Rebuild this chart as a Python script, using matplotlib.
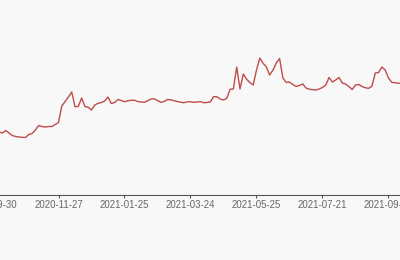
#!/usr/bin/env python3

import sys
from typing import List

import matplotlib

matplotlib.use("Agg")
from matplotlib import pyplot as plt

# one value per category, the axis shows a label every 20 categories
values = [
    68, 67, 68, 67, 69.5, 67, 64.5, 63.5, 63, 62.7,
    62.5, 65.5, 66.5, 70, 74.5, 73.5, 73, 73.5, 73.5, 75.5,
    77.5, 94, 98.5, 103, 108, 93.3, 93.5, 102, 93.5, 92.7,
    90, 95, 96.7, 97.5, 99, 103, 96.5, 97.5, 100.5, 99.5,
    98.3, 99.2, 99.7, 99.8, 98.5, 98, 97.7, 99.2, 101, 101.2,
    99.5, 97.7, 98.5, 100.5, 100.2, 99.3, 98.5, 97.8, 97.3, 98.2,
    98.2, 97.7, 98, 98.3, 97.3, 97.5, 98, 103.3, 103.3, 101,
    100, 101.7, 110.7, 111, 133, 111, 126, 120.7, 117.5, 115,
    130, 142, 136.7, 133, 125, 130, 137, 141.5, 122, 117.5,
    118, 115.5, 113.5, 114.5, 116, 112, 110.8, 110.3, 110, 111,
    112.5, 115, 122.5, 118, 120, 122.5, 117, 116, 113.5, 110.5,
    115, 115.5, 113.5, 112.2, 111.7, 114, 127, 127.5, 133, 130,
    122, 117.7, 117.2, 116.8, 116.7,
]
tick_positions = [0, 20, 40, 60, 80, 100, 120]
tick_labels = [
    "2020-09-30",
    "2020-11-27",
    "2021-01-25",
    "2021-03-24",
    "2021-05-25",
    "2021-07-21",
    "2021-09-16",
]

BG = "#f8f8f8"
LINE_COLOR = "#bd4c4a"
AXIS_COLOR = "#555555"
LABEL_COLOR = "#666666"


def draw(out_path: str):
    plt.rcParams["font.family"] = ["Liberation Sans", "DejaVu Sans"]

    fig = plt.figure(figsize=(4.0, 2.6), dpi=100)
    fig.patch.set_facecolor(BG)

    # the view is a crop of a wider chart, so the axes runs past both edges
    ax = fig.add_axes([-0.05, 0.25, 1.1, 0.75])
    ax.set_facecolor(BG)

    x = list(range(len(values)))
    ax.plot(x, values, color=LINE_COLOR, linewidth=1.0, solid_joinstyle="round")

    ax.set_xlim(-3.79, 129.55)
    ax.set_ylim(5, 200)

    ax.set_xticks(tick_positions)
    ax.set_xticklabels(tick_labels, fontsize=6.9, color=LABEL_COLOR)
    ax.tick_params(axis="x", length=2.2, width=0.8, color=AXIS_COLOR, pad=1.2)
    ax.set_yticks([])

    for side in ("top", "left", "right"):
        ax.spines[side].set_visible(False)
    ax.spines["bottom"].set_color(AXIS_COLOR)
    ax.spines["bottom"].set_linewidth(0.8)

    fig.savefig(out_path, dpi=100, facecolor=BG)


def main(args: List[str]) -> int:
    draw("out.png")
    return 0


if __name__ == "__main__":
    sys.exit(main(sys.argv[1:]))
